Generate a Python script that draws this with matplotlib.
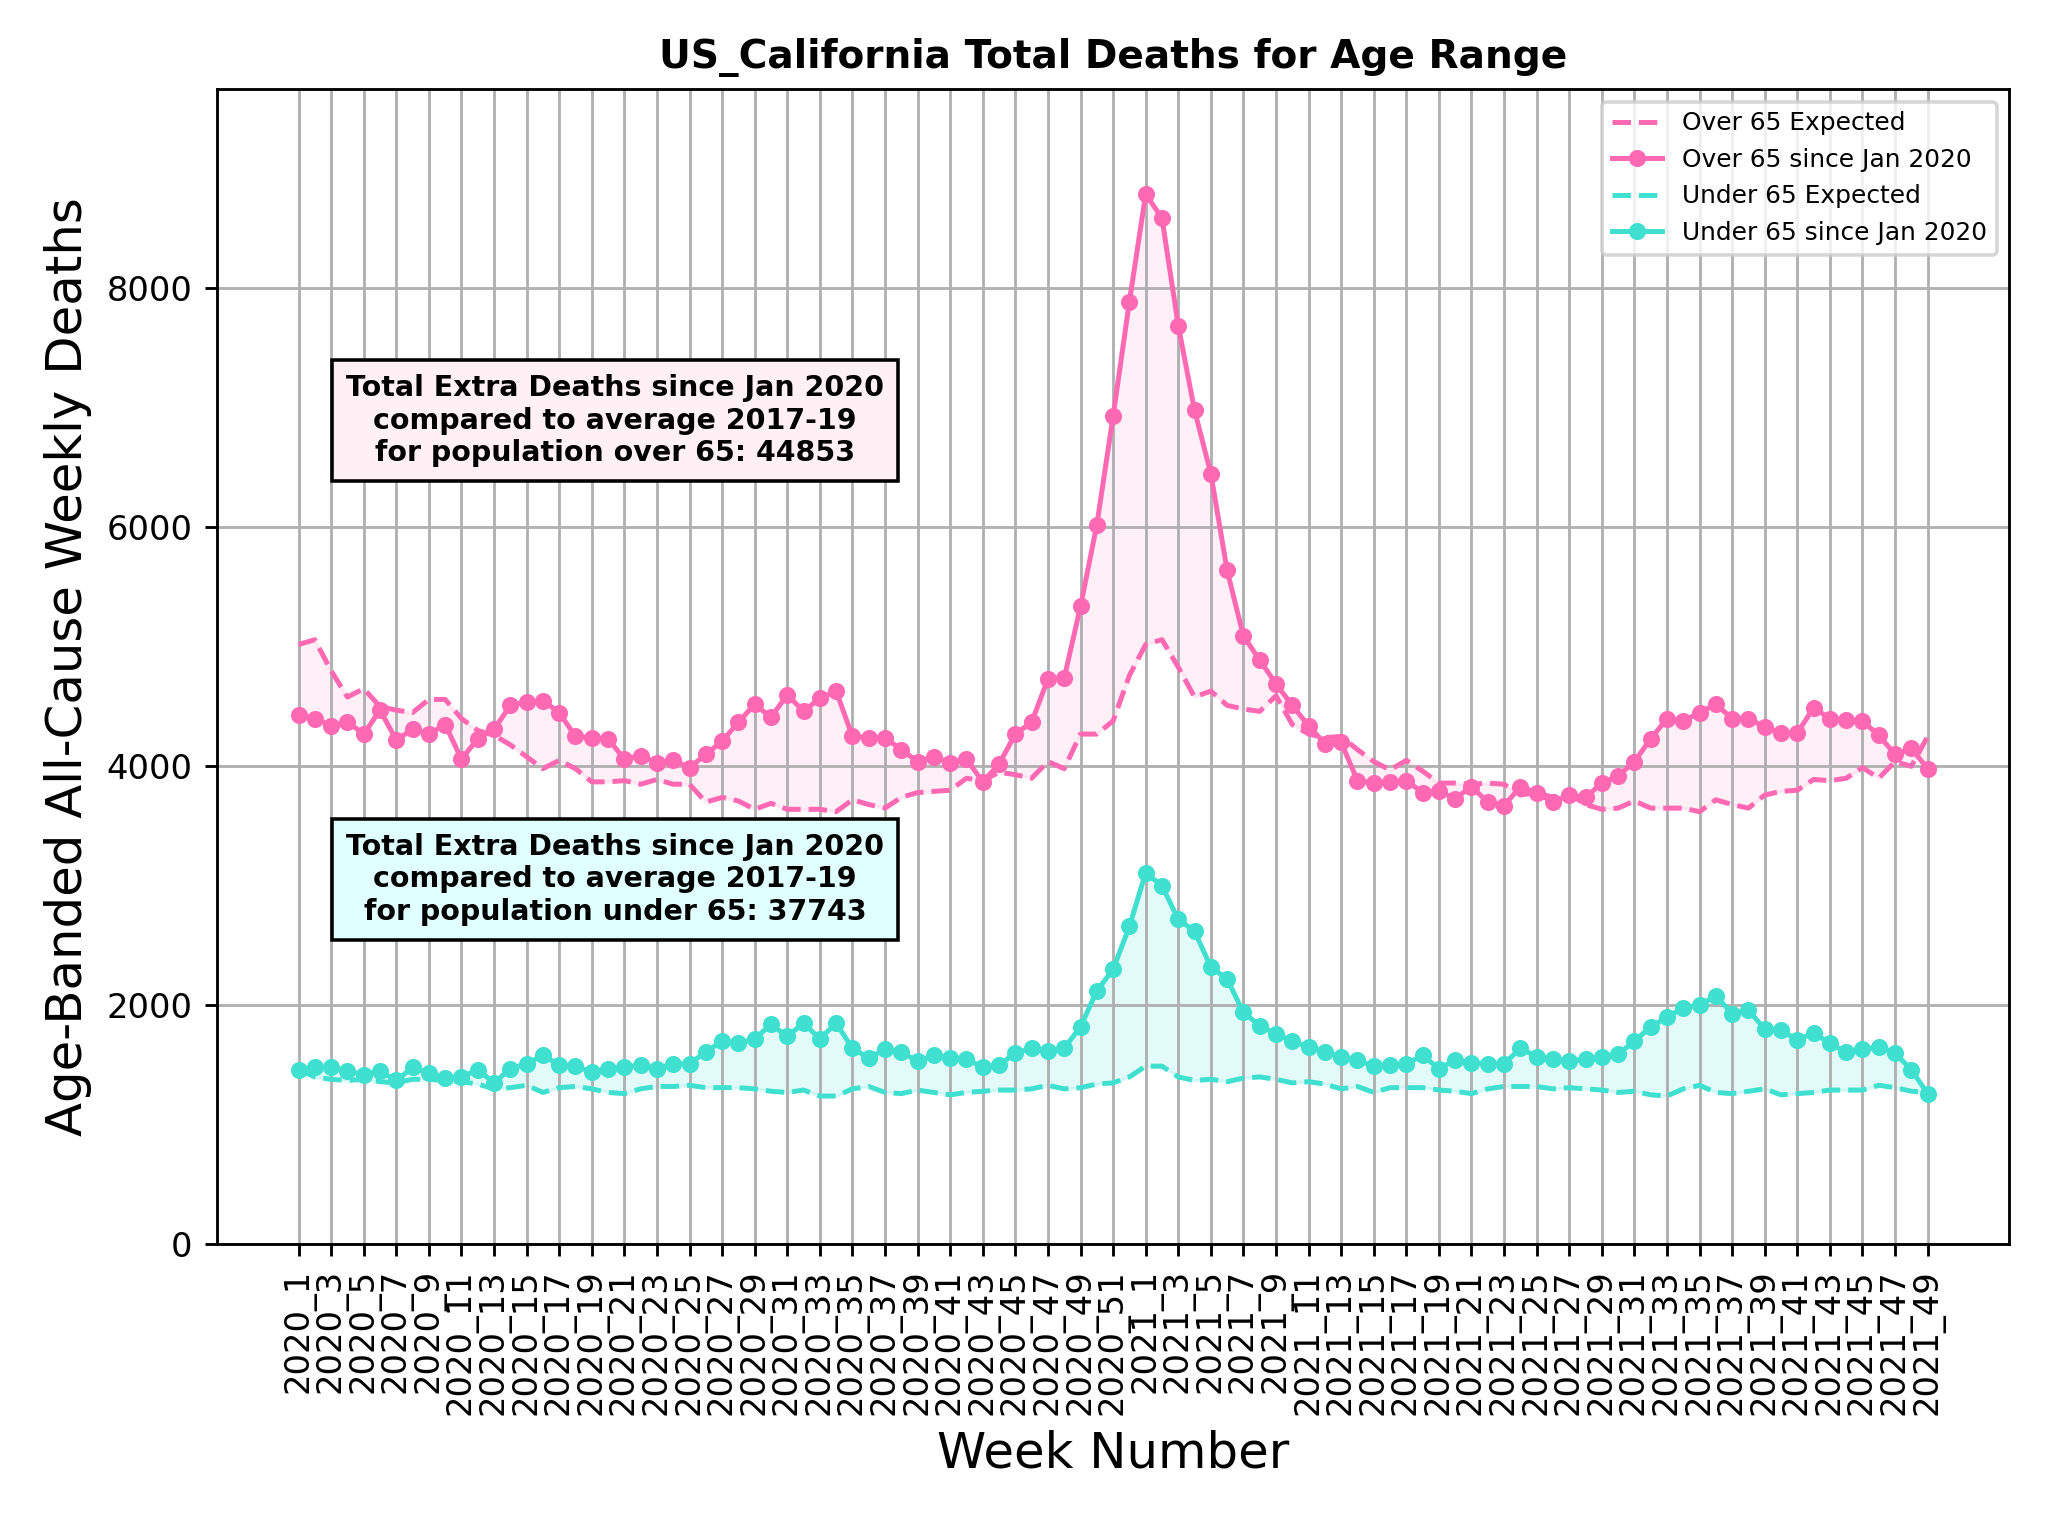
import matplotlib
matplotlib.use("Agg")
import matplotlib.pyplot as plt

weeks = [f"2020_{w}" for w in range(1, 53)] + [f"2021_{w}" for w in range(1, 50)]

over65_actual = [4430, 4400, 4340, 4370, 4270, 4470, 4220, 4310, 4270, 4350,
                 4060, 4230, 4310, 4510, 4540, 4550, 4450, 4250, 4240, 4230,
                 4060, 4090, 4030, 4050, 3990, 4100, 4210, 4370, 4520, 4410,
                 4600, 4460, 4570, 4630, 4250, 4240, 4240, 4140, 4040, 4080,
                 4030, 4060, 3870, 4020, 4270, 4370, 4730, 4740, 5340, 6020,
                 6930, 7890, 8790, 8590, 7690, 6980, 6450, 5640, 5090, 4890,
                 4690, 4510, 4340, 4190, 4200, 3880, 3860, 3870, 3880, 3780,
                 3790, 3730, 3830, 3700, 3670, 3830, 3780, 3700, 3760, 3740,
                 3860, 3920, 4040, 4230, 4400, 4380, 4450, 4520, 4400, 4400,
                 4330, 4280, 4280, 4490, 4400, 4390, 4380, 4260, 4100, 4150,
                 3980]
over65_expected = [5020, 5060, 4800, 4580, 4650, 4500, 4470, 4450, 4560, 4560,
                   4400, 4300, 4260, 4180, 4080, 3980, 4050, 3980, 3870, 3870,
                   3880, 3850, 3890, 3850, 3850, 3700, 3740, 3710, 3640, 3690,
                   3640, 3640, 3640, 3620, 3720, 3680, 3650, 3740, 3780, 3790,
                   3800, 3900, 3880, 3950, 3930, 3900, 4040, 3980, 4270, 4270,
                   4380, 4760, 5020, 5060, 4830, 4580, 4630, 4510, 4480, 4460,
                   4590, 4350, 4270, 4240, 4250, 4140, 4040, 3970, 4050, 3960,
                   3860, 3860, 3850, 3860, 3850, 3760, 3780, 3740, 3770, 3680,
                   3640, 3650, 3710, 3650, 3650, 3650, 3620, 3720, 3680, 3650,
                   3760, 3790, 3800, 3890, 3880, 3900, 3990, 3900, 4040, 4000,
                   4250]
under65_actual = [1460, 1480, 1480, 1450, 1420, 1450, 1370, 1480, 1430, 1390,
                  1400, 1460, 1350, 1470, 1510, 1580, 1500, 1490, 1440, 1470,
                  1480, 1500, 1470, 1510, 1510, 1610, 1700, 1680, 1720, 1840,
                  1740, 1850, 1720, 1850, 1640, 1560, 1630, 1610, 1530, 1580,
                  1560, 1550, 1480, 1500, 1600, 1640, 1620, 1640, 1820, 2120,
                  2300, 2660, 3110, 3000, 2720, 2620, 2320, 2220, 1940, 1830,
                  1760, 1700, 1650, 1610, 1570, 1540, 1490, 1500, 1510, 1580,
                  1470, 1540, 1520, 1510, 1510, 1640, 1570, 1550, 1530, 1550,
                  1570, 1590, 1700, 1820, 1900, 1980, 2000, 2080, 1930, 1960,
                  1800, 1790, 1710, 1770, 1680, 1610, 1630, 1650, 1600, 1460,
                  1260]
under65_expected = [1460, 1400, 1380, 1370, 1380, 1360, 1350, 1380, 1380, 1370,
                    1360, 1340, 1300, 1310, 1330, 1270, 1310, 1320, 1300, 1270,
                    1260, 1300, 1320, 1320, 1330, 1310, 1310, 1310, 1300, 1280,
                    1270, 1290, 1240, 1240, 1300, 1320, 1270, 1260, 1290, 1270,
                    1250, 1270, 1280, 1290, 1290, 1300, 1330, 1300, 1310, 1340,
                    1350, 1400, 1490, 1490, 1400, 1370, 1380, 1360, 1390, 1400,
                    1380, 1350, 1360, 1340, 1300, 1320, 1270, 1310, 1310, 1310,
                    1290, 1280, 1260, 1300, 1320, 1320, 1320, 1300, 1310, 1300,
                    1290, 1270, 1280, 1250, 1240, 1300, 1330, 1270, 1260, 1280,
                    1300, 1250, 1260, 1270, 1290, 1290, 1290, 1330, 1310, 1280,
                    1270]

pink = "#FF69B4"
teal = "#40E0D0"
x = list(range(len(weeks)))

fig = plt.figure(figsize=(8, 6), dpi=256)
ax = fig.add_axes([0.106, 0.19, 0.875, 0.752])

ax.plot(x, over65_expected, "--", color=pink, lw=1.4, label="Over 65 Expected")
ax.plot(x, over65_actual, "-o", color=pink, lw=1.4, ms=3.8, label="Over 65 since Jan 2020")
ax.fill_between(x, over65_expected, over65_actual, color=pink, alpha=0.1)
ax.plot(x, under65_expected, "--", color=teal, lw=1.4, label="Under 65 Expected")
ax.plot(x, under65_actual, "-o", color=teal, lw=1.4, ms=3.8, label="Under 65 since Jan 2020")
ax.fill_between(x, under65_expected, under65_actual, color=teal, alpha=0.15)

ax.set_ylim(0, max(over65_actual) * 1.1)
ax.set_xlim(-5, len(x) + 4)
ax.set_xticks(x[::2])
ax.set_xticklabels(weeks[::2], rotation=90, fontsize=9.5)
ax.tick_params(axis="y", labelsize=9.5)
ax.grid(True, color="#b0b0b0", lw=0.8)
ax.set_title("US_California Total Deaths for Age Range", fontsize=11, fontweight="bold")
ax.set_ylabel("Age-Banded All-Cause Weekly Deaths", fontsize=14)
ax.set_xlabel("Week Number", fontsize=14)
ax.legend(loc="upper right", fontsize=7)

ax.text(0.222, 0.713, "Total Extra Deaths since Jan 2020\ncompared to average 2017-19\nfor population over 65: 44853",
        transform=ax.transAxes, ha="center", va="center", fontsize=8, fontweight="bold",
        bbox=dict(facecolor="#FFF0F5", edgecolor="black", boxstyle="square,pad=0.5"))
ax.text(0.222, 0.316, "Total Extra Deaths since Jan 2020\ncompared to average 2017-19\nfor population under 65: 37743",
        transform=ax.transAxes, ha="center", va="center", fontsize=8, fontweight="bold",
        bbox=dict(facecolor="#E0FFFF", edgecolor="black", boxstyle="square,pad=0.5"))

fig.savefig("out.png")
